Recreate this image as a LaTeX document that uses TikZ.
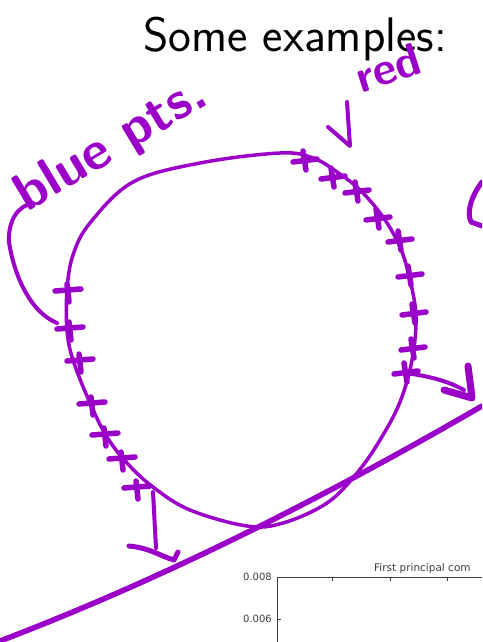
\documentclass[tikz,border=0pt]{standalone}
\usepackage{fontspec}
\newfontfamily\plotfont{DejaVu Sans}
\definecolor{penpurple}{RGB}{155,0,200}
\definecolor{axisgray}{RGB}{60,60,60}

\begin{document}
\begin{tikzpicture}[x=1pt,y=-1pt,
  pen/.style={penpurple,line width=4pt,line cap=round,line join=round},
  crossbar/.style={pen,line width=5.5pt},
  inktext/.style={text=penpurple,inner sep=0pt,font=\sffamily\bfseries\fontsize{#1}{#1}\selectfont},
  plottext/.style={text=axisgray,inner sep=1pt,font=\plotfont\fontsize{10}{12}\selectfont}]
  \clip (0,0) rectangle (482,642);
  \node[anchor=base west,inner sep=0pt,font=\sffamily\fontsize{48.5}{54}\selectfont] (title) at (143,52) {Some examples:};

  % corner of the plot
  \draw[axisgray,line width=1pt] (277,642) -- (277,577) -- (482,577);
  \foreach \x in {332,390,447}
    \draw[axisgray,line width=0.6pt] (\x,577) -- (\x,581);
  \draw[axisgray,line width=0.6pt] (277,619) -- (281,619);
  \node[plottext,anchor=east] (ytopA) at (273,577) {0.008};
  \node[plottext,anchor=east] (ytopB) at (273,619) {0.006};
  \node[plottext,anchor=base west,font=\plotfont\fontsize{10.5}{12}\selectfont] (plottitle) at (373,571) {First principal com};

  % the loop of points
  \draw[pen,line width=3.5pt] plot[smooth cycle,tension=0.6] coordinates {
    (67,290) (73,255) (90,223) (133,182) (200,163) (280,153) (313,158)
    (337,172) (360,190) (383,217) (400,247) (410,280) (416,317) (412,360)
    (400,402) (380,440) (357,473) (327,503) (283,523) (247,526)
    (190,510) (153,487) (127,463) (107,437) (90,403) (73,360) (67,330)};

  % blue points (left) and red points (right)
  \foreach \px/\py in {68/290,70/328,80/360,92/403,105/434,122/458,137/487}{
    \draw[crossbar] (\px-13,\py+1) -- (\px+13,\py-1);
    \draw[crossbar] (\px-1,\py-6) -- (\px+1,\py+12);
  }
  \foreach \px/\py in {305/160,333/177,357/191,378/218,400/240,410/275,414/313,413/348,406/372}{
    \draw[crossbar] (\px-12,\py+2) -- (\px+12,\py-1);
    \draw[crossbar] (\px-2,\py-9) -- (\px+1,\py+10);
  }

  % projection line
  \draw[pen,line width=5.5pt] (0,641) .. controls (160,580) and (320,500) .. (482,406);

  % distances to the line
  \draw[pen] (153,492) -- (156,548);
  \draw[pen,line width=5pt] (129,546) .. controls (150,548) and (160,556) .. (174,560) -- (178,552);
  \draw[pen] (405,373) .. controls (430,376) and (450,382) .. (464,390);
  \draw[pen,line width=7pt] (468,366) -- (472,398) -- (444,390);

  % labels
  \node[inktext=54,rotate=31] (bluepts) at (112,146) {blue pts.};
  \draw[pen] (33,203) .. controls (18,206) and (8,220) .. (9,242)
    .. controls (14,275) and (30,312) .. (57,323);
  \node[inktext=46,rotate=18] (redlabel) at (388,68) {red};
  \draw[pen] (347,102) -- (350,146) -- (328,127);
  \draw[pen,line width=5pt] (482,182) .. controls (472,195) and (466,212) .. (471,222) -- (482,226);
\end{tikzpicture}
\end{document}
